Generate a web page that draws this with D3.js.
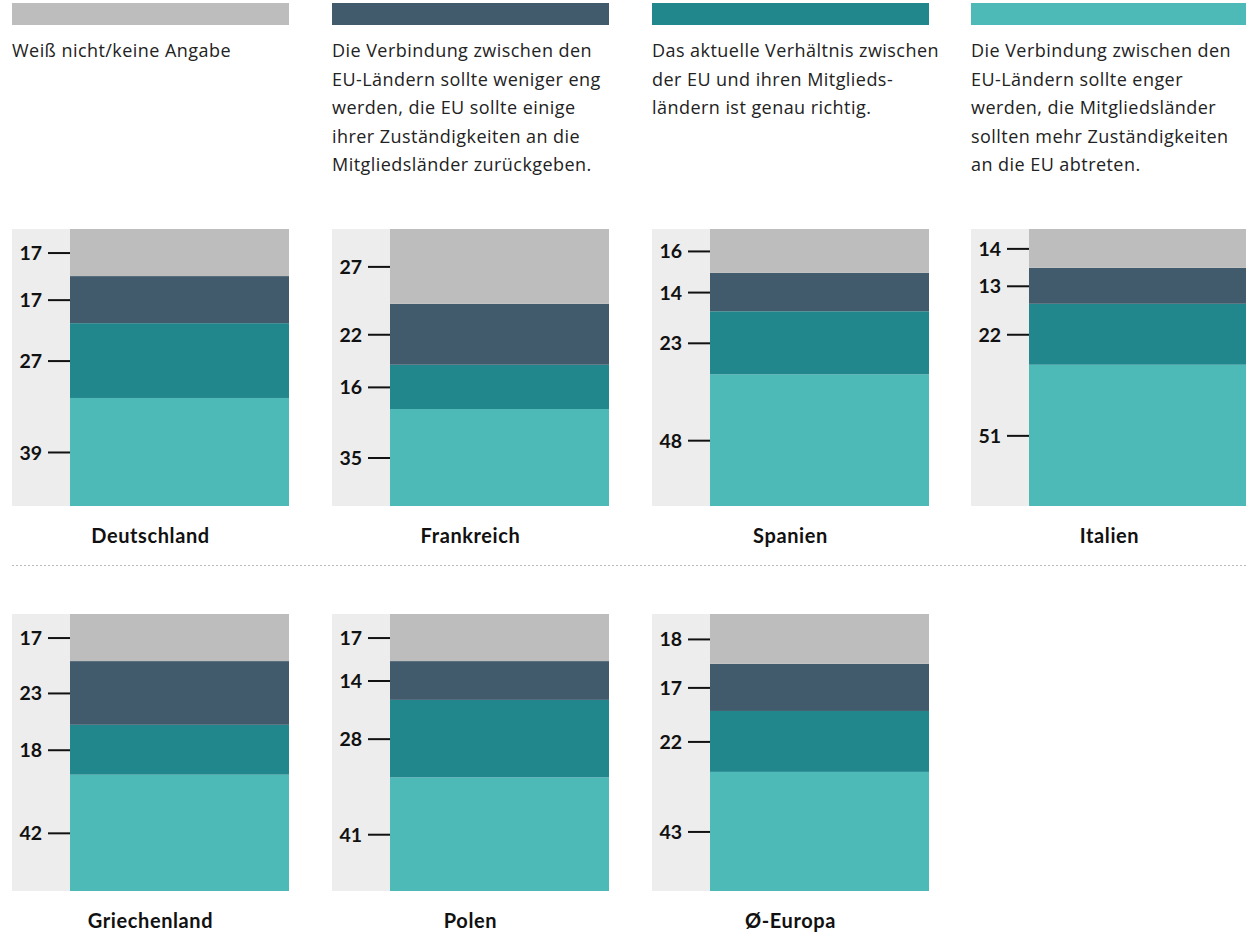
<!DOCTYPE html>
<html lang="de">
<head>
<meta charset="utf-8">
<script src="https://cdn.jsdelivr.net/npm/d3@7"></script>
<style>
  html, body { margin: 0; padding: 0; background: #fff; }
  svg { display: block; }
  .legend-text { font-family: "Open Sans", sans-serif; font-size: 18px; letter-spacing: 0.45px; fill: #222; }
  .tick text { font-family: Lato, sans-serif; font-weight: 700; font-size: 19.5px; fill: #111; }
  .country { font-family: Lato, sans-serif; font-weight: 700; font-size: 20px; letter-spacing: 0.6px; fill: #111; }
</style>
</head>
<body>
<svg id="chart" width="1246" height="936"></svg>
<script>
// Survey answers per country, in percent
const countries = ["Deutschland", "Frankreich", "Spanien", "Italien", "Griechenland", "Polen", "Ø-Europa"];
const weissNicht   = [17, 27, 16, 14, 17, 17, 18];
const wenigerEng   = [17, 22, 14, 13, 23, 14, 17];
const genauRichtig = [27, 16, 23, 22, 18, 28, 22];
const engerWerden  = [39, 35, 48, 51, 42, 41, 43];

// Answer categories, top of the stack first
const seriesKeys = ["weissNicht", "wenigerEng", "genauRichtig", "engerWerden"];
const seriesLabels = [
  ["Weiß nicht/keine Angabe"],
  ["Die Verbindung zwischen den", "EU-Ländern sollte weniger eng", "werden, die EU sollte einige", "ihrer Zuständigkeiten an die", "Mitgliedsländer zurückgeben."],
  ["Das aktuelle Verhältnis zwischen", "der EU und ihren Mitglieds-", "ländern ist genau richtig."],
  ["Die Verbindung zwischen den", "EU-Ländern sollte enger", "werden, die Mitgliedsländer", "sollten mehr Zuständigkeiten", "an die EU abtreten."]
];
const seriesColors = ["#bdbdbd", "#415b6c", "#21878d", "#4dbab7"];

const values = { weissNicht, wenigerEng, genauRichtig, engerWerden };
const rows = countries.map((c, i) => {
  const r = { country: c };
  seriesKeys.forEach(k => r[k] = values[k][i]);
  return r;
});

const svg = d3.select("#chart");

// layout
const colX = [12, 332, 652, 971];
const rowY = [229, 614];
const panelW = 277, panelH = 277, axisW = 58;

// legend
const legend = svg.append("g");
seriesKeys.forEach((k, i) => {
  const g = legend.append("g").attr("transform", `translate(${colX[i]},0)`);
  g.append("rect").attr("x", 0).attr("y", 3).attr("width", panelW).attr("height", 22)
    .attr("fill", seriesColors[i]);
  const t = g.append("text").attr("class", "legend-text").attr("y", 57);
  seriesLabels[i].forEach((line, j) => {
    t.append("tspan").attr("x", 0).attr("y", 57 + j * 28.6).text(line);
  });
});

// stacked columns, one panel per country
const stack = d3.stack().keys(seriesKeys.slice().reverse());
const stacked = stack(rows);

rows.forEach((row, i) => {
  const px = colX[i % 4], py = rowY[Math.floor(i / 4)];
  const total = d3.sum(seriesKeys, k => row[k]);
  const y = d3.scaleLinear().domain([total, 0]).range([py, py + panelH]);
  const g = svg.append("g");

  g.append("rect").attr("x", px).attr("y", py).attr("width", axisW).attr("height", panelH)
    .attr("fill", "#ededed");

  const segs = stacked.map(layer => ({ key: layer.key, y0: layer[i][0], y1: layer[i][1] }));
  g.selectAll("rect.seg").data(segs).join("rect")
    .attr("class", "seg")
    .attr("x", px + axisW)
    .attr("width", panelW - axisW)
    .attr("y", d => y(d.y1))
    .attr("height", d => y(d.y0) - y(d.y1))
    .attr("fill", d => seriesColors[seriesKeys.indexOf(d.key)]);

  const mids = segs.map(d => (d.y0 + d.y1) / 2);
  const labelByMid = new Map(segs.map((d, j) => [mids[j], d.y1 - d.y0]));
  const axis = d3.axisLeft(y)
    .tickValues(mids)
    .tickFormat(m => labelByMid.get(m))
    .tickSize(22)
    .tickPadding(6);
  const ax = g.append("g").attr("transform", `translate(${px + axisW},0)`).call(axis);
  ax.select(".domain").remove();
  ax.selectAll(".tick line").attr("stroke", "#111").attr("stroke-width", 2);
  ax.selectAll(".tick text").attr("dy", "0.36em");

  g.append("text").attr("class", "country")
    .attr("x", px + panelW / 2).attr("y", py + panelH + 37)
    .attr("text-anchor", "middle")
    .text(row.country);
});

// dotted separator between the two rows
svg.append("line")
  .attr("x1", 12).attr("x2", 1246).attr("y1", 565.5).attr("y2", 565.5)
  .attr("stroke", "#bbb").attr("stroke-width", 1).attr("stroke-dasharray", "2,2");
</script>
</body>
</html>
